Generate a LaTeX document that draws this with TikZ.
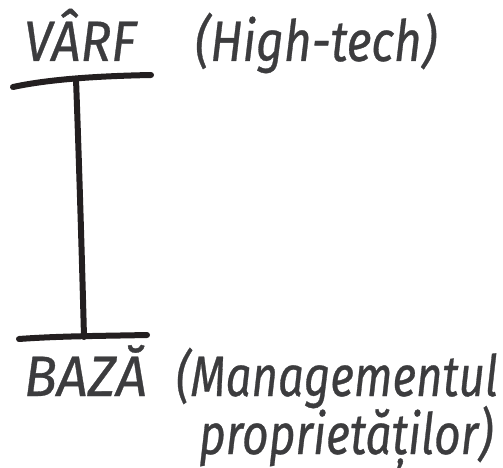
\documentclass[tikz,border=0pt]{standalone}
\usepackage{fontspec}
\usepackage{graphicx}
\setmainfont{Fira Sans}[ItalicFeatures={FakeBold=0.6}]
\definecolor{txt}{HTML}{3C3C3E}
\definecolor{ink}{HTML}{231F20}
\newcommand{\fitw}[2]{\resizebox{#1}{\height}{#2}}
\begin{document}
\begin{tikzpicture}[x=1pt,y=-1pt,
  lbl/.style={inner sep=0pt,outer sep=0pt,text=txt,font=\fontsize{57}{64}\selectfont\itshape,anchor=base west},
  bar/.style={draw=ink,line width=6pt,line cap=round}]
\useasboundingbox (0,0) rectangle (503,468);
\node[lbl] (varf) at (24,61) {\fitw{112pt}{VÂRF}};
\node[lbl] (ht) at (195,61) {\fitw{242pt}{(High-tech)}};
\node[lbl] (baza) at (24,396) {\fitw{123pt}{BAZĂ}};
\node[lbl] (mgmt) at (176,396) {\fitw{322pt}{(Managementul}};
\node[lbl] (prop) at (199,454) {\fitw{294pt}{proprietăților)}};
\coordinate (tl) at (13,87);
\coordinate (tr) at (151,75);
\coordinate (tm) at (76,79);
\coordinate (bl) at (19,339);
\coordinate (br) at (147,335);
\coordinate (bm) at (84,337);
\draw[bar] (tl) .. controls (50,79) and (100,76) .. (tr);
\draw[bar] (bl) .. controls (60,336) and (100,336) .. (br);
\draw[bar] (tm) .. controls (79,160) and (82,260) .. (bm);
\end{tikzpicture}
\end{document}
